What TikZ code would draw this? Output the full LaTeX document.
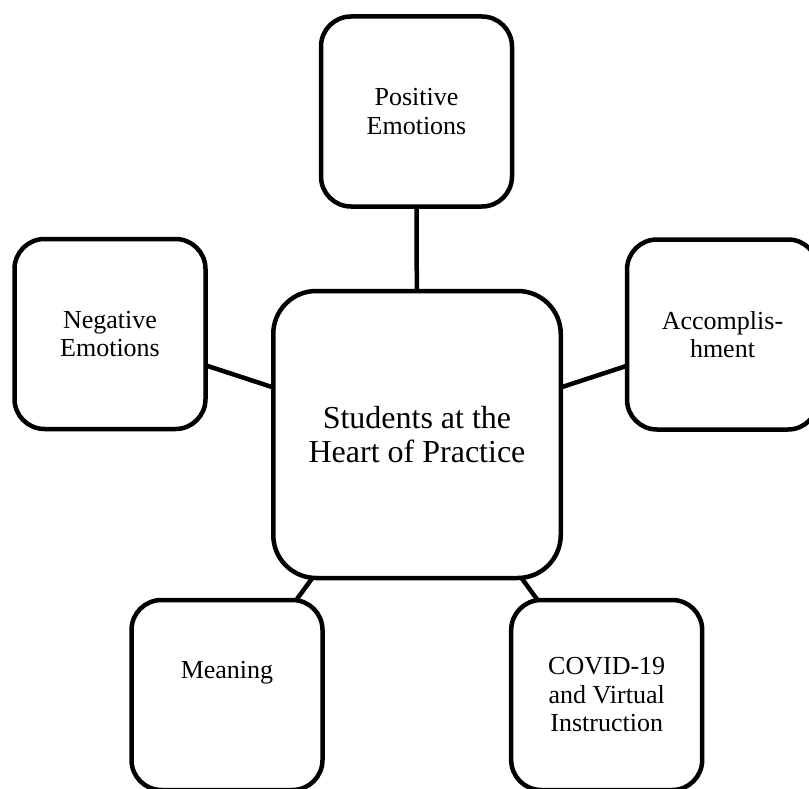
\documentclass[tikz,border=0pt]{standalone}
\usepackage{fontspec}
\setmainfont{Liberation Serif}
\usetikzlibrary{backgrounds}
\begin{document}
\begin{tikzpicture}[x=1pt,y=-1pt,
  outerbox/.style={draw=black, line width=4.5pt, fill=white, rounded corners=30pt,
    minimum width=191pt, minimum height=190pt, inner sep=0pt, align=center,
    font=\fontsize{26}{28.5}\selectfont},
  centerbox/.style={draw=black, line width=4.5pt, fill=white, rounded corners=43pt,
    minimum width=287.5pt, minimum height=287pt, inner sep=0pt, align=center,
    font=\fontsize{32}{34}\selectfont},
  boxtext/.style={inner sep=0pt, align=center, font=\fontsize{26}{28.5}\selectfont},
  link/.style={draw=black, line width=4.5pt}]
\useasboundingbox (0,0) rectangle (809,789);
\clip (0,0) rectangle (809,789);
\node[centerbox] (c) at (417,434.5) {Students at the\\Heart of Practice};
\node[outerbox] (pos) at (416.5,111.5) {Positive\\Emotions};
\node[outerbox] (neg) at (110,334) {Negative\\Emotions};
\node[outerbox] (acc) at (722.5,334.5) {Accomplis-\\hment};
\node[outerbox] (mea) at (227,695) {};
\node[boxtext] (meat) at ([yshift=22pt]mea.center) {Meaning};
\node[outerbox] (cov) at (606.7,695) {COVID-19\\and Virtual\\Instruction};
\begin{pgfonlayer}{background}
\draw[link] (c.center) -- (pos.center);
\draw[link] (c.center) -- (neg.center);
\draw[link] (c.center) -- (acc.center);
\draw[link] (c.center) -- (mea.center);
\draw[link] (c.center) -- (cov.center);
\end{pgfonlayer}
\end{tikzpicture}
\end{document}
